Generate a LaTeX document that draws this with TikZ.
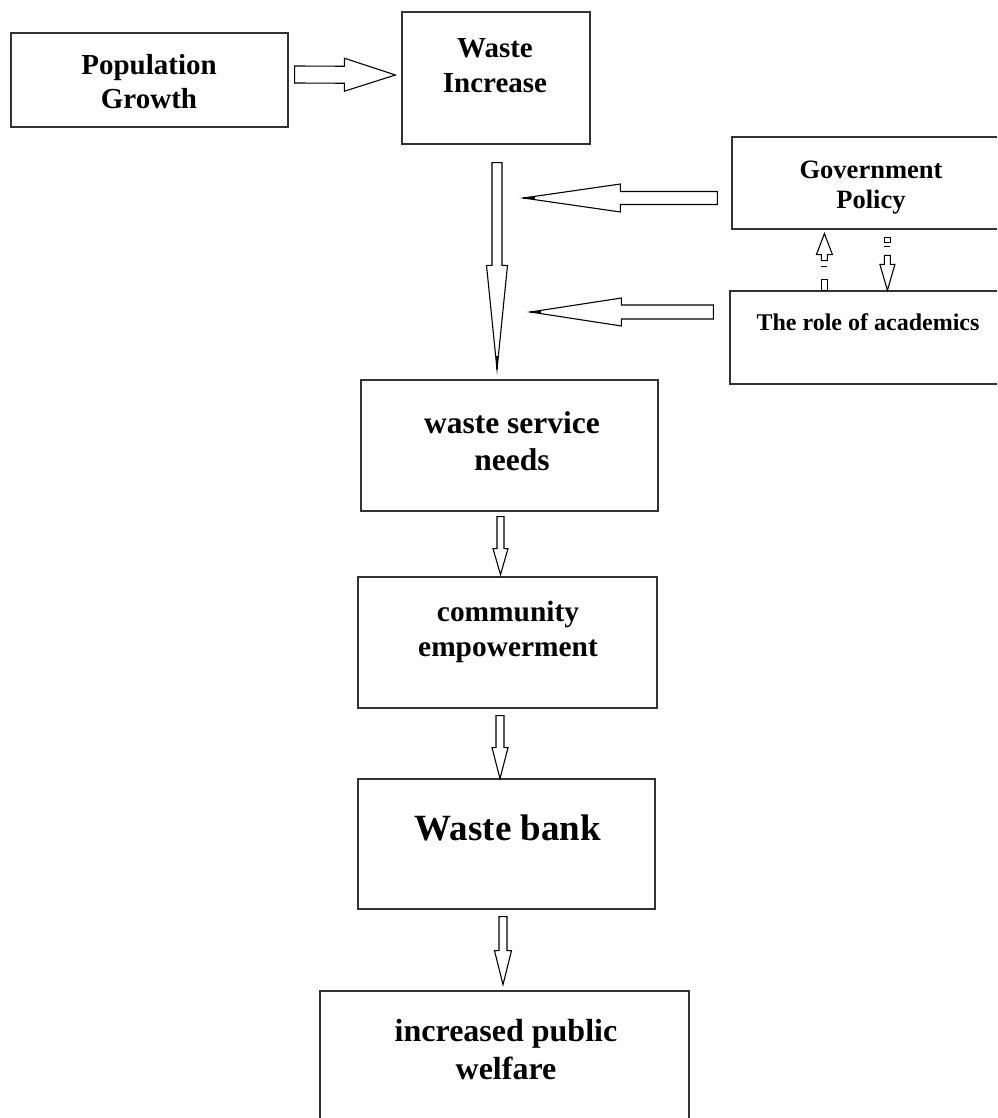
\documentclass[tikz,border=0pt]{standalone}
\usepackage{fontspec}
\setmainfont{Liberation Serif}
\usetikzlibrary{calc,fit}
\tikzset{
  box/.style={draw=black!80, line width=1.2pt, inner sep=0pt, fill=white},
  txt/.style={align=center, inner sep=0pt, text=black},
  barrow/.style={draw=black, line width=1.1pt, fill=white, line join=miter},
  tipmark/.style={draw=black, line width=2.4pt},
  seg/.style={draw=black, line width=1pt, fill=white},
}
% block arrow: #1 start, #2 tip, #3 shaft half width, #4 head half width, #5 head length, #6 style
\newcommand{\blockarr}[6]{%
  \coordinate (BAh) at ($(#2)!#5!(#1)$);
  \draw[#6] ($(#1)!#3!90:(#2)$) -- ($(BAh)!#3!-90:(#1)$) -- ($(BAh)!#4!-90:(#1)$)
    -- (#2) -- ($(BAh)!#4!90:(#1)$) -- ($(BAh)!#3!90:(#1)$) -- ($(#1)!#3!-90:(#2)$) -- cycle;
}
\begin{document}
\begin{tikzpicture}[x=1pt,y=-1pt]
\useasboundingbox (0,0) rectangle (997,1118);
\clip (0,0) rectangle (997,1118);

% boxes
\node[box, fit={(11,33) (288,127)}] (pop) {};
\node[box, fit={(402,12) (590,144)}] (inc) {};
\node[box, fit={(732,137) (1010,229)}] (gov) {};
\node[box, fit={(730,291) (1010,384)}] (acad) {};
\node[box, fit={(361,380) (658,511)}] (wsn) {};
\node[box, fit={(358,577) (657,708)}] (com) {};
\node[box, fit={(358,779) (655,909)}] (bank) {};
\node[box, fit={(320,991) (689,1140)}] (welf) {};

% texts
\node[txt, font=\fontsize{29}{34}\selectfont\bfseries] (popT) at (149,82) {Population\\Growth};
\node[txt, font=\fontsize{29}{35}\selectfont\bfseries] (incT) at (495,65.5) {Waste\\Increase};
\node[txt, font=\fontsize{26.5}{30}\selectfont\bfseries] (govT) at (871,187.5) {Government\\Policy};
\node[txt, font=\fontsize{24}{28}\selectfont\bfseries] (acadT) at (868,322) {The role of academics};
\node[txt, font=\fontsize{31.5}{37}\selectfont\bfseries] (wsnT) at (512,441) {waste service\\needs};
\node[txt, font=\fontsize{29.4}{35}\selectfont\bfseries] (comT) at (508,632) {community\\empowerment};
\node[txt, font=\fontsize{37}{42}\selectfont\bfseries] (bankT) at (508,828) {Waste bank};
\node[txt, font=\fontsize{32}{38}\selectfont\bfseries] (welfT) at (506,1050) {increased public\\welfare};

% connector end points
\coordinate (a1s) at ($(pop.east)+(6,-5.5)$);
\coordinate (a1t) at ($(inc.west)+(-6,-3)$);
\coordinate (a2s) at ($(inc.south)+(1,18)$);
\coordinate (a2t) at ($(inc.south |- wsn.north)+(1,-10)$);
\coordinate (a3s) at ($(gov.west)+(-14,15)$);
\coordinate (a3t) at ($(a3s)+(-194,0)$);
\coordinate (a4s) at ($(acad.west)+(-16,-25.5)$);
\coordinate (a4t) at ($(a4s)+(-183,0)$);
\coordinate (a7s) at ($(wsn.south)+(-9,5)$);
\coordinate (a7t) at ($(wsn.south)+(-9,63)$);
\coordinate (a8s) at ($(com.south)+(-7.5,7)$);
\coordinate (a8t) at ($(com.south)+(-7.5,70)$);
\coordinate (a9s) at ($(bank.south)+(-3.5,7)$);
\coordinate (a9t) at ($(bank.south)+(-3.5,75)$);

% block arrows
\blockarr{a1s}{a1t}{8.5pt}{16.5pt}{51pt}{barrow}
\blockarr{a2s}{a2t}{5pt}{10.5pt}{104pt}{barrow}
\blockarr{a3s}{a3t}{6.5pt}{14pt}{97pt}{barrow}
\blockarr{a4s}{a4t}{7pt}{14pt}{91pt}{barrow}
\blockarr{a7s}{a7t}{3.5pt}{7.5pt}{26pt}{barrow}
\blockarr{a8s}{a8t}{4pt}{8pt}{31pt}{barrow}
\blockarr{a9s}{a9t}{4pt}{8.5pt}{34pt}{barrow}
% dark tip marks of the long arrows
\draw[tipmark] (a2t) -- ($(a2t)+(0,-13)$);
\draw[tipmark] (a3t) -- ($(a3t)+(12,0)$);
\draw[tipmark] (a4t) -- ($(a4t)+(11,0)$);

% broken (dashed) arrow from academics up to government policy
\coordinate (a5t) at ($(gov.south west)+(93,4)$);
\coordinate (a5s) at ($(acad.north west)+(95,0)$);
\draw[barrow] (a5t) -- ($(a5t)+(8,21)$) -- ($(a5t)+(3,21)$) -- ($(a5t)+(3,27)$)
  -- ($(a5t)+(-3,27)$) -- ($(a5t)+(-3,21)$) -- ($(a5t)+(-8,21)$) -- cycle;
\draw[seg] ($(a5t)+(-3,33)$) -- ($(a5t)+(3,33)$);
\draw[seg] ($(a5s)+(-3,0)$) rectangle ($(a5s)+(3,-11)$);
% broken (dashed) arrow from government policy down to academics
\coordinate (a6s) at ($(gov.south west)+(156,8)$);
\coordinate (a6t) at ($(acad.north west)+(158,0)$);
\draw[seg] ($(a6s)+(-3,0)$) rectangle ($(a6s)+(3,5)$);
\draw[seg] ($(a6s)+(-3,9)$) -- ($(a6s)+(3,9)$);
\draw[barrow] (a6t) -- ($(a6t)+(7.5,-26)$) -- ($(a6t)+(3,-26)$) -- ($(a6t)+(3,-35)$)
  -- ($(a6t)+(-3,-35)$) -- ($(a6t)+(-3,-26)$) -- ($(a6t)+(-7.5,-26)$) -- cycle;
\end{tikzpicture}
\end{document}
